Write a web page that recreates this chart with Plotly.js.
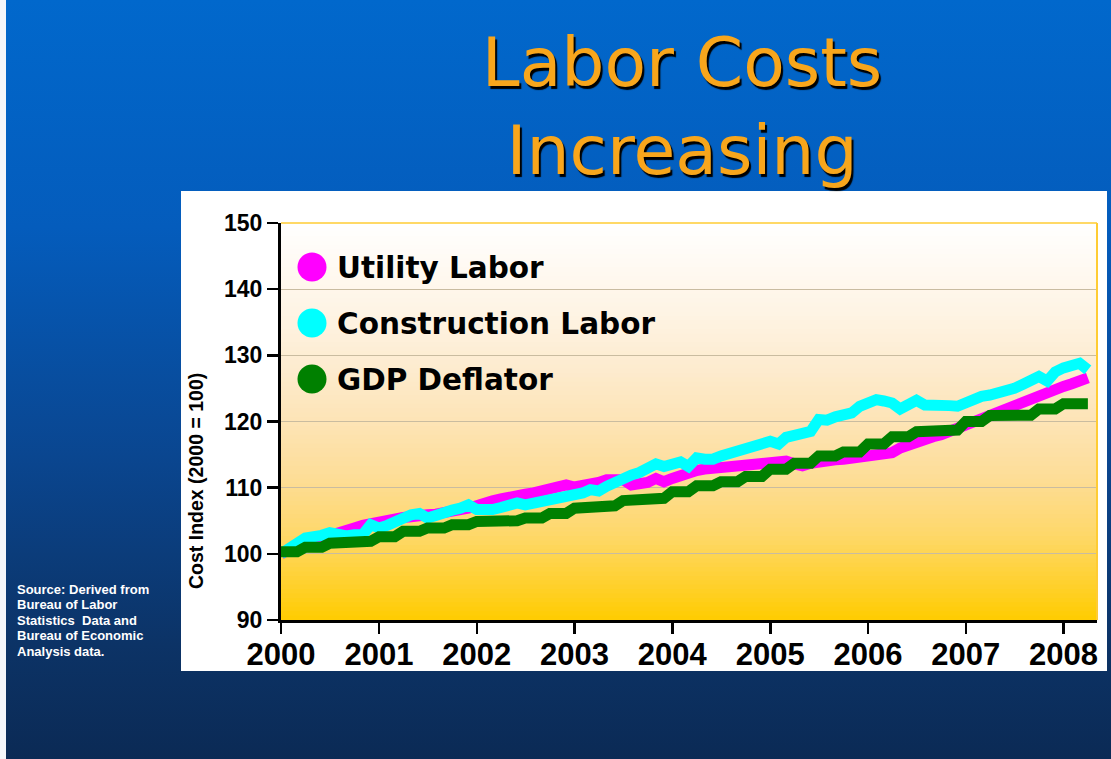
<!DOCTYPE html>
<html><head><meta charset="utf-8">
<script src="https://cdn.plot.ly/plotly-3.0.1.min.js"></script>
<style>
html,body{margin:0;padding:0;width:1111px;height:759px;overflow:hidden;}
body{background:linear-gradient(to bottom,#0168cc 0%,#045cbc 30%,#0a4690 60%,#0c3366 85%,#0b2a55 100%);position:relative;}
#edge{position:absolute;left:0;top:0;width:6px;height:759px;background:#f4f6fa;}
#panel{position:absolute;left:181px;top:191px;width:926px;height:480px;background:#ffffff;}
#chart{position:absolute;left:0;top:0;width:1111px;height:759px;}
</style></head><body>
<div id="edge"></div><div id="panel"></div><div id="chart"></div>
<script>
// ---- data (monthly, Jan 2000 .. Apr 2008), index 2000 = 100 ----
const seriesNames = ["Utility Labor", "Construction Labor", "GDP Deflator"];
const seriesColors = ["#FF00FF", "#00FFFF", "#008000"];
const yearTicks = [2000, 2001, 2002, 2003, 2004, 2005, 2006, 2007, 2008];
const utilityLabor = [100.0,100.6,101.4,102.0,102.0,102.3,102.8,103.1,103.5,103.9,104.3,104.6,
104.8,104.9,105.2,105.5,105.6,105.9,105.9,106.0,106.1,106.5,106.7,106.9,
107.4,107.6,108.0,108.3,108.4,108.6,109.0,109.2,109.5,109.7,109.8,110.4,
110.1,110.2,110.5,110.8,111.2,111.2,111.2,110.4,110.5,110.8,111.4,110.9,
111.4,111.9,112.2,112.6,112.8,112.9,113.0,113.1,113.3,113.4,113.4,113.5,
113.6,113.8,114.0,113.6,113.3,113.7,114.0,114.1,114.2,114.3,114.4,114.5,
114.9,115.1,115.2,115.3,116.0,116.5,116.8,117.2,117.7,118.0,118.5,119.0,
119.4,119.9,120.5,121.2,121.6,122.0,122.5,123.2,123.6,123.9,124.5,124.8,
125.3,125.7,126.1,126.6];
const constructionLabor = [100.0,101.1,101.6,102.4,102.4,102.8,103.2,102.9,102.7,102.9,102.9,104.4,
103.9,104.3,104.8,105.6,105.9,106.1,105.4,105.8,106.4,106.6,106.9,107.4,
106.7,106.6,106.7,107.0,107.5,107.7,107.4,107.6,108.2,108.0,108.2,108.7,
108.9,109.2,109.7,109.5,110.2,110.9,111.5,111.9,112.3,112.8,113.6,113.2,
113.5,113.9,113.2,114.5,114.3,114.3,114.8,115.1,115.6,116.0,116.2,116.6,
117.0,116.6,117.6,117.9,118.4,118.5,120.3,120.2,120.7,121.0,121.3,122.3,
122.8,123.3,123.1,122.8,121.9,122.5,123.2,122.5,122.6,122.7,122.4,122.3,
122.8,123.5,123.8,124.0,124.2,124.5,125.0,125.6,126.3,126.8,126.1,127.5,
128.1,128.3,128.8,127.8];
const gdpDeflator = [100.3,100.3,100.3,101.0,101.0,101.0,101.6,101.6,101.6,101.9,101.9,101.9,
102.6,102.6,102.6,103.4,103.4,103.4,103.9,103.9,103.9,104.4,104.4,104.4,
104.9,104.9,104.9,105.0,105.0,105.0,105.4,105.4,105.4,106.1,106.1,106.1,
106.9,106.9,106.9,107.25,107.25,107.25,108.05,108.05,108.05,108.4,108.4,108.4,
109.4,109.4,109.4,110.3,110.3,110.3,110.9,110.9,110.9,111.7,111.7,111.7,
112.8,112.8,112.8,113.7,113.7,113.7,114.8,114.8,114.8,115.4,115.4,115.4,
116.6,116.6,116.6,117.7,117.7,117.7,118.45,118.45,118.45,118.7,118.7,118.7,
120.0,120.0,120.0,120.9,120.9,120.9,120.95,120.95,120.95,121.9,121.9,121.9,
122.7,122.7,122.7,122.7];
const seriesValues = [utilityLabor, constructionLabor, gdpDeflator];
const sourceLines = ["Source: Derived from", "Bureau of Labor", "Statistics  Data and", "Bureau of Economic", "Analysis data."];

// month dates
const months = [];
for (let i = 0; i < utilityLabor.length; i++) {
  const y = 2000 + Math.floor(i / 12), m = (i % 12) + 1;
  months.push(y + "-" + (m < 10 ? "0" + m : m) + "-01");
}

// ---- layout helpers (pixel -> paper) ----
const W = 1111, H = 759, ML = 281, MR = 14, MT = 223, MB = 139;
const PW = W - ML - MR, PH = H - MT - MB;
const px = x => (x - ML) / PW;
const py = y => (H - MB - y) / PH;

const traces = seriesValues.map((vals, i) => ({
  type: "scatter", mode: "lines", x: months, y: vals, name: seriesNames[i],
  line: {color: seriesColors[i], width: 11}, showlegend: false, hoverinfo: "skip"
}));

// background gradient of plot area
function hex(c){return [parseInt(c.slice(1,3),16),parseInt(c.slice(3,5),16),parseInt(c.slice(5,7),16)];}
const stops = [[0,"#FFCC00"],[0.1,"#FFD132"],[0.22,"#FED86C"],[0.36,"#FDDD97"],[0.5,"#FDE4B6"],[0.63,"#FDEBCE"],[0.76,"#FEF3E2"],[0.88,"#FFF9F1"],[1,"#FFFFFF"]];
function colAt(t){
  for (let k = 0; k < stops.length - 1; k++) {
    const [t0,c0] = stops[k], [t1,c1] = stops[k+1];
    if (t >= t0 && t <= t1) {
      const f = (t - t0) / (t1 - t0), a = hex(c0), b = hex(c1);
      return "rgb(" + a.map((v,j)=>Math.round(v + (b[j]-v)*f)).join(",") + ")";
    }
  }
  return stops[stops.length-1][1];
}
const shapes = [];
const N = 90;
for (let i = 0; i < N; i++) {
  shapes.push({type:"rect", xref:"paper", yref:"paper", x0:0, x1:1, y0:i/N, y1:(i+1)/N+0.002,
    fillcolor: colAt((i+0.5)/N), line:{width:0}, layer:"below"});
}
// plot frame (top & right in gold)
shapes.push({type:"line", xref:"paper", yref:"paper", x0:0, x1:1, y0:1, y1:1, line:{color:"#FFCC33", width:1.5}, layer:"above"});
shapes.push({type:"line", xref:"paper", yref:"paper", x0:1, x1:1, y0:0, y1:1, line:{color:"#FFCC33", width:2}, layer:"above"});

// legend circles
const legendY = [267, 323, 379];
const annotations = [];
seriesNames.forEach((nm, i) => {
  const cx = 312, cy = legendY[i], r = 14.5;
  shapes.push({type:"circle", xref:"paper", yref:"paper", x0:px(cx-r), x1:px(cx+r), y0:py(cy+r), y1:py(cy-r),
    fillcolor: seriesColors[i], line:{width:0}, layer:"above"});
  annotations.push({xref:"paper", yref:"paper", x:px(335), y:py(cy+1), xanchor:"left", yanchor:"middle",
    text: nm, showarrow:false, font:{family:"DejaVu Sans", size:29.5, color:"#000000", weight:"bold"}});
});

// y axis title
annotations.push({xref:"paper", yref:"paper", x:px(196), y:py(481), xanchor:"center", yanchor:"middle",
  text:"Cost Index (2000 = 100)", textangle:-90, showarrow:false,
  font:{family:"Liberation Sans", size:19.5, color:"#000000", weight:"bold"}});
// source note, one annotation per line
sourceLines.forEach((s, i) => {
  annotations.push({xref:"paper", yref:"paper", x:px(15), y:py(589 + i*15.5), xanchor:"left", yanchor:"middle", align:"left",
    text: s, showarrow:false, font:{family:"Liberation Sans", size:13, color:"#FFFFFF", weight:"bold"}});
});

const layout = {
  width: W, height: H,
  margin: {l: ML, r: MR, t: MT, b: MB, pad: 0},
  paper_bgcolor: "rgba(0,0,0,0)", plot_bgcolor: "rgba(0,0,0,0)",
  title: {text: "Labor Costs<br>Increasing", x: 682/W, xanchor: "center", y: 1 - 86/H, yanchor: "middle",
    font: {family: "DejaVu Sans", size: 68, color: "#F8A61C", shadow: "2px 3px 1px #000000"}},
  showlegend: false,
  xaxis: {type: "date", range: ["2000-01-01", "2008-05-05"],
    tickvals: yearTicks.map(y => y + "-01-01"), ticktext: yearTicks.map(String),
    showgrid: false, zeroline: false, showline: true, linecolor: "#000000", linewidth: 3,
    ticks: "outside", ticklen: 11, tickwidth: 2.5, tickcolor: "#000000", ticklabelstandoff: -6,
    tickfont: {family: "Liberation Sans", size: 31, color: "#000000", weight: "bold"}},
  yaxis: {range: [90, 150], tickvals: [90,100,110,120,130,140,150],
    showgrid: true, gridcolor: "#C9BCA0", gridwidth: 1.2, zeroline: false,
    showline: true, linecolor: "#000000", linewidth: 3,
    ticks: "outside", ticklen: 11, tickwidth: 2.5, tickcolor: "#000000",
    tickfont: {family: "Liberation Sans", size: 23, color: "#000000", weight: "bold"}},
  shapes: shapes, annotations: annotations
};
Plotly.newPlot("chart", traces, layout, {displayModeBar: false, staticPlot: true});
</script></body></html>
